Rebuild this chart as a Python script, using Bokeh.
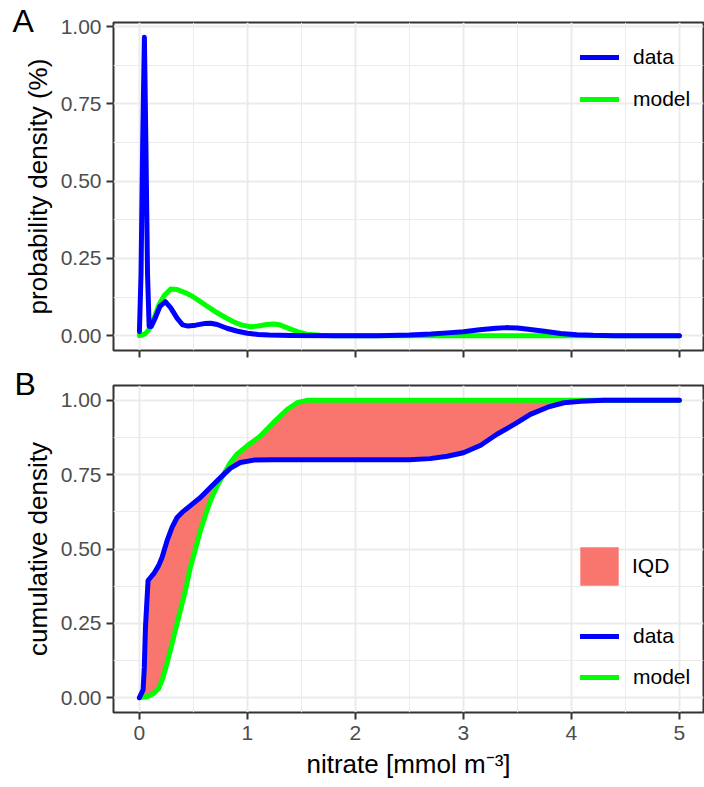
from bokeh.plotting import figure
from bokeh.models import (Range1d, FixedTicker, NumeralTickFormatter, Legend, LegendItem,
                          CustomLabelingPolicy)
from bokeh.layouts import column
from bokeh.embed import file_html
from bokeh.resources import INLINE

# ---------------- data ----------------
# Panel A: probability density
dens_data_x = [0.0, 0.015, 0.03, 0.046, 0.06, 0.075, 0.09, 0.11, 0.15, 0.19, 0.24, 0.29, 0.35, 0.40,
               0.45, 0.52, 0.60, 0.66, 0.72, 0.81, 0.90, 1.0, 1.1, 1.2, 1.4, 1.8, 2.2, 2.5, 2.7,
               2.85, 3.0, 3.15, 3.3, 3.4, 3.5, 3.6, 3.75, 3.9, 4.05, 4.2, 4.4, 5.0]
dens_data_y = [0.013, 0.2, 0.62, 0.965, 0.62, 0.2, 0.03, 0.03, 0.06, 0.095, 0.11, 0.09, 0.056, 0.035,
               0.031, 0.034, 0.039, 0.04, 0.036, 0.024, 0.015, 0.008, 0.004, 0.002, 0.0005, 0.0, 0.0,
               0.002, 0.005, 0.009, 0.013, 0.019, 0.024, 0.026, 0.025, 0.021, 0.014, 0.007, 0.003,
               0.001, 0.0, 0.0]
dens_model_x = [0.0, 0.05, 0.086, 0.13, 0.18, 0.23, 0.29, 0.35, 0.44, 0.50, 0.565, 0.64, 0.72, 0.80,
                0.87, 0.95, 1.03, 1.10, 1.18, 1.24, 1.30, 1.40, 1.48, 1.55, 1.67, 1.8, 5.0]
dens_model_y = [0.0, 0.005, 0.018, 0.05, 0.099, 0.13, 0.151, 0.149, 0.137, 0.125, 0.11, 0.092, 0.074,
                0.058, 0.045, 0.034, 0.029, 0.031, 0.036, 0.038, 0.035, 0.021, 0.011, 0.005, 0.001,
                0.0, 0.0]

# Panel B: cumulative density
cdf_data_x = [0.0, 0.034, 0.045, 0.056, 0.08, 0.133, 0.179, 0.21, 0.256, 0.302, 0.349, 0.395, 0.472,
              0.565, 0.657, 0.75, 0.843, 0.935, 1.06, 1.24, 1.5, 2.0, 2.5, 2.69, 2.85, 3.0, 3.16,
              3.31, 3.47, 3.62, 3.78, 3.93, 4.09, 4.3, 5.0]
cdf_data_y = [0.0, 0.026, 0.1, 0.238, 0.394, 0.417, 0.445, 0.472, 0.528, 0.573, 0.606, 0.623, 0.646,
              0.673, 0.707, 0.74, 0.772, 0.791, 0.799, 0.80, 0.80, 0.80, 0.80, 0.804, 0.812, 0.824,
              0.849, 0.886, 0.919, 0.953, 0.977, 0.992, 0.997, 1.0, 1.0]
cdf_model_x = [0.0, 0.071, 0.133, 0.179, 0.21, 0.247, 0.287, 0.333, 0.38, 0.426, 0.472, 0.519, 0.565,
               0.611, 0.657, 0.719, 0.781, 0.843, 0.904, 0.997, 1.12, 1.24, 1.37, 1.46, 1.55, 5.0]
cdf_model_y = [0.0, 0.003, 0.015, 0.031, 0.059, 0.104, 0.16, 0.227, 0.294, 0.361, 0.439, 0.5, 0.562,
               0.614, 0.662, 0.712, 0.752, 0.791, 0.819, 0.847, 0.88, 0.925, 0.97, 0.992, 1.0, 1.0]

x_ticks = [0, 1, 2, 3, 4, 5]
x_minor = [0.5, 1.5, 2.5, 3.5, 4.5]
y_ticks = [0.0, 0.25, 0.5, 0.75, 1.0]
y_minor = [0.125, 0.375, 0.625, 0.875]

BLUE = "#0000FF"
GREEN = "#00FF00"
FILL = "#F8766D"
FONT = "Liberation Sans"
LW = 5

FRAME_W = 590
X0 = -0.24
X1 = X0 + FRAME_W / 108.0

NO_LABELS = CustomLabelingPolicy(code="""
try { for (let i = 0; i < indices.size; i++) { indices.unset(i) } } catch (e) {}
return indices
""")


def style(p, show_x_labels):
    p.background_fill_color = "white"
    p.border_fill_color = "white"
    p.outline_line_color = "#333333"
    p.outline_line_width = 2
    for g in (p.xgrid, p.ygrid):
        g.grid_line_color = "#EBEBEB"
        g.grid_line_width = 2
        g.minor_grid_line_color = "#EBEBEB"
        g.minor_grid_line_width = 1
    p.xaxis.ticker = FixedTicker(ticks=x_ticks, minor_ticks=x_minor)
    p.yaxis.ticker = FixedTicker(ticks=y_ticks, minor_ticks=y_minor)
    p.xaxis.formatter = NumeralTickFormatter(format="0")
    p.yaxis.formatter = NumeralTickFormatter(format="0.00")
    for ax in (p.xaxis, p.yaxis):
        ax.axis_line_color = None
        ax.major_tick_line_color = "#333333"
        ax.major_tick_line_width = 2
        ax.major_tick_out = 7
        ax.major_tick_in = 0
        ax.minor_tick_line_color = None
        ax.major_label_text_font = FONT
        ax.major_label_text_font_size = "21px"
        ax.major_label_text_color = "#4D4D4D"
        ax.axis_label_text_font = FONT
        ax.axis_label_text_font_size = "26px"
        ax.axis_label_text_font_style = "normal"
        ax.axis_label_text_color = "black"
    p.yaxis.major_label_standoff = 5
    p.yaxis.axis_label_standoff = 5
    if show_x_labels:
        p.xaxis.major_label_standoff = 6
    else:
        p.xaxis.major_label_text_font_size = "0px"
        p.xaxis.major_label_standoff = 0
        p.xaxis.major_label_policy = NO_LABELS


def panel_title(p, letter, offset):
    p.title.text = letter
    p.title.text_font = FONT
    p.title.text_font_size = "32px"
    p.title.text_font_style = "normal"
    p.title.text_color = "black"
    p.title.align = "left"
    p.title.offset = offset
    p.title.vertical_align = "middle"
    p.title.standoff = -34


def make_legend(items, loc, spacing, gw, gh, standoff):
    return Legend(items=items, location=loc, background_fill_alpha=0, border_line_color=None,
                  padding=0, margin=0, spacing=spacing, glyph_width=gw, glyph_height=gh,
                  label_height=20, label_standoff=standoff, label_text_font=FONT,
                  label_text_font_size="21px", label_text_color="black")


# ---------------- panel A ----------------
pA = figure(frame_width=FRAME_W, frame_height=328, min_border_left=113, min_border_right=1,
            min_border_top=22, min_border_bottom=10,
            x_range=Range1d(X0, X1), y_range=Range1d(-0.048, 1.013),
            output_backend="svg", toolbar_location=None)
style(pA, False)
pA.yaxis.axis_label = "probability density (%)"
panel_title(pA, "A", -101)

gA = pA.line(dens_model_x, dens_model_y, line_color=GREEN, line_width=LW,
             line_cap="round", line_join="round")
bA = pA.line(dens_data_x, dens_data_y, line_color=BLUE, line_width=LW,
             line_cap="round", line_join="round")

pA.add_layout(make_legend([LegendItem(label="data", renderers=[bA]),
                           LegendItem(label="model", renderers=[gA])],
                          (467, 239), 18, 39, 20, 14))

# ---------------- panel B ----------------
pB = figure(frame_width=FRAME_W, frame_height=327, min_border_left=113, min_border_right=1,
            min_border_top=25, min_border_bottom=75,
            x_range=Range1d(X0, X1), y_range=Range1d(-0.05, 1.05),
            output_backend="svg", toolbar_location=None)
style(pB, True)
pB.yaxis.axis_label = "cumulative density"
pB.xaxis.axis_label = "nitrate [mmol m\u207b\u00b3]"
pB.xaxis.axis_label_standoff = 6
panel_title(pB, "B", -99)

iqd = pB.patch(cdf_data_x + cdf_model_x[::-1], cdf_data_y + cdf_model_y[::-1],
               fill_color=FILL, line_color=None)
gB = pB.line(cdf_model_x, cdf_model_y, line_color=GREEN, line_width=LW,
             line_cap="round", line_join="round")
bB = pB.line(cdf_data_x, cdf_data_y, line_color=BLUE, line_width=LW,
             line_cap="round", line_join="round")

pB.add_layout(make_legend([LegendItem(label="IQD", renderers=[iqd])],
                          (462, 122), 0, 48, 48, 9))
pB.add_layout(make_legend([LegendItem(label="data", renderers=[bB]),
                           LegendItem(label="model", renderers=[gB])],
                          (467, 23), 17, 39, 20, 14))

layout = column(pA, pB)
open("out.html", "w").write(file_html(layout, INLINE))
